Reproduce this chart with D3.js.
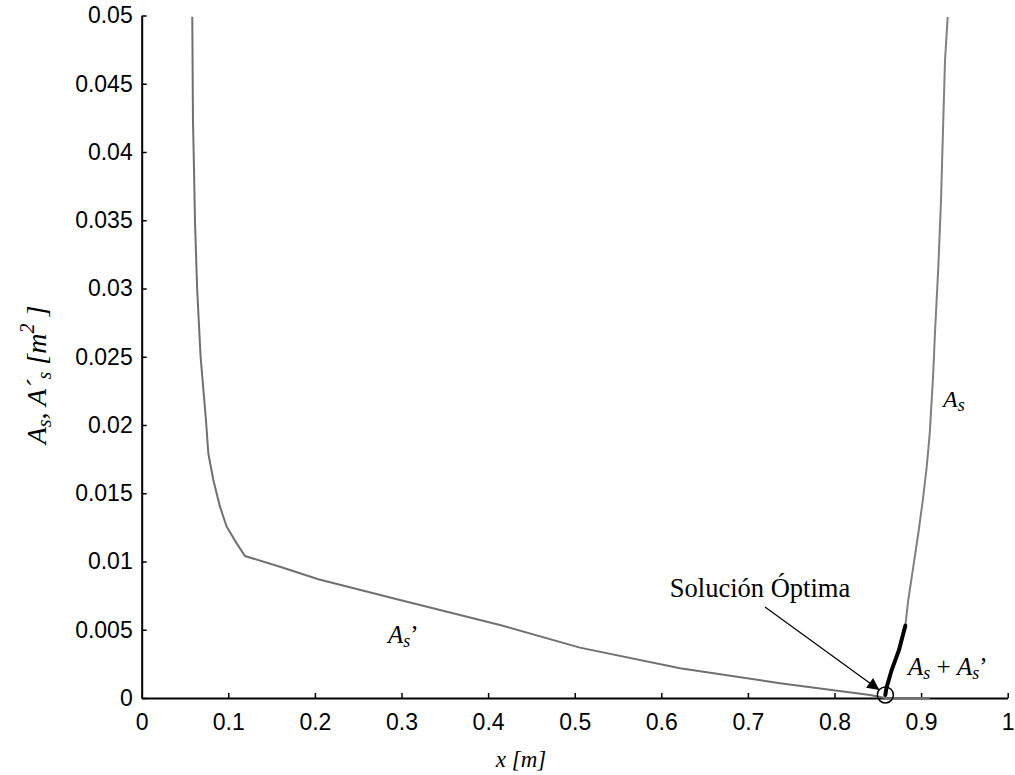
<!DOCTYPE html>
<html><head><meta charset="utf-8">
<script src="https://cdn.jsdelivr.net/npm/d3@7"></script>
<style>body{margin:0;background:#fff}</style>
</head><body>
<svg id="c" width="1015" height="775"></svg>
<script>
const xTicks = [0,0.1,0.2,0.3,0.4,0.5,0.6,0.7,0.8,0.9,1];
const yTicks = [0,0.005,0.01,0.015,0.02,0.025,0.03,0.035,0.04,0.045,0.05];
const xTickLabels = ["0","0.1","0.2","0.3","0.4","0.5","0.6","0.7","0.8","0.9","1"];
const yTickLabels = ["0","0.005","0.01","0.015","0.02","0.025","0.03","0.035","0.04","0.045","0.05"];

const asPrimeX = [0.0584,0.0592,0.0600,0.0615,0.0640,0.0680,0.0742,0.0769,0.0827,0.0904,0.0981,0.1097,0.1193,0.1597,0.2039,0.2983,0.4137,0.5060,0.6216,0.7370,0.8411,0.8587,0.9100];
const asPrimeY = [0.0499,0.0423,0.0400,0.0350,0.0300,0.0250,0.02037,0.01793,0.01597,0.01402,0.01255,0.01133,0.01040,0.00962,0.00870,0.00718,0.00535,0.00369,0.00218,0.00108,0.00022,0.0000,0.0000];

const asX = [0.9307,0.9276,0.9256,0.9230,0.9199,0.9160,0.9140,0.9100,0.9065,0.9020,0.8968,0.8910,0.8852,0.8818,0.8744,0.8660,0.8600,0.8587];
const asY = [0.0499,0.0467,0.0423,0.03648,0.0316,0.02672,0.02379,0.0194,0.01695,0.0145,0.01207,0.00962,0.00718,0.0053,0.0035,0.00205,0.00073,0.00022];

const sumX = [0.8818,0.8744,0.8660,0.8600,0.8587];
const sumY = [0.0053,0.0035,0.00205,0.00073,0.00022];

const optimum = [0.8587, 0.00022];

const svg = d3.select("#c");
const x = d3.scaleLinear().domain([0,1]).range([141.7,1007.7]);
const y = d3.scaleLinear().domain([0,0.05]).range([698,15.5]);

const serif = "'Liberation Serif','Times New Roman',serif";
const sans = "'Liberation Sans',Arial,sans-serif";

// axes
const xAxis = d3.axisBottom(x).tickValues(xTicks).tickFormat((d,i)=>xTickLabels[i]).tickSizeInner(-5).tickSizeOuter(0).tickPadding(16);
const gx = svg.append("g").attr("transform","translate(0,698)").call(xAxis);
const yAxis = d3.axisLeft(y).tickValues(yTicks).tickFormat((d,i)=>yTickLabels[i]).tickSizeInner(-5).tickSizeOuter(0).tickPadding(9);
const gy = svg.append("g").attr("transform","translate(141.7,0)").call(yAxis);
[gx,gy].forEach(g=>{
  g.select(".domain").attr("stroke","#000").attr("stroke-width",2);
  g.selectAll(".tick line").attr("stroke","#000").attr("stroke-width",1.5);
  g.selectAll(".tick text").attr("font-family",sans).attr("font-size",23).attr("fill","#000");
});

const lineX = d3.line().x(d=>x(d[0])).y(d=>y(d[1]));

svg.append("path").datum(asPrimeX.map((v,i)=>[v,asPrimeY[i]]))
  .attr("d",lineX).attr("fill","none").attr("stroke","#707070").attr("stroke-width",2);
svg.append("path").datum(asX.map((v,i)=>[v,asY[i]]))
  .attr("d",lineX).attr("fill","none").attr("stroke","#808080").attr("stroke-width",2);
svg.append("path").datum(sumX.map((v,i)=>[v,sumY[i]]))
  .attr("d",lineX).attr("fill","none").attr("stroke","#000").attr("stroke-width",4).attr("stroke-linecap","round");

svg.append("circle").attr("cx",x(optimum[0])).attr("cy",y(optimum[1])).attr("r",8)
  .attr("fill","none").attr("stroke","#000").attr("stroke-width",1.5);

// arrow annotation
svg.append("defs").append("marker").attr("id","ah").attr("viewBox","0 0 10 10")
  .attr("refX",10).attr("refY",5).attr("markerWidth",24).attr("markerHeight",12)
  .attr("markerUnits","userSpaceOnUse").attr("orient","auto")
  .append("path").attr("d","M0,0L10,5L0,10Z").attr("fill","#000");
svg.append("line").attr("x1",765).attr("y1",607).attr("x2",x(optimum[0])-6).attr("y2",y(optimum[1])-5)
  .attr("stroke","#000").attr("stroke-width",1.2).attr("marker-end","url(#ah)");

svg.append("text").attr("x",760).attr("y",597).attr("text-anchor","middle")
  .attr("font-family",serif).attr("font-size",26.5).text("Solución Óptima");

function sublabel(xp, yp, parts, size){
  const t = svg.append("text").attr("x",xp).attr("y",yp).attr("font-family",serif).attr("font-size",size);
  parts.forEach(p=>{
    const ts = t.append("tspan").text(p.t);
    if(p.i) ts.attr("font-style","italic");
    if(p.dy) ts.attr("dy",p.dy);
    if(p.fs) ts.attr("font-size",p.fs);
  });
  return t;
}
sublabel(388,643,[{t:"A",i:1},{t:"s",i:1,dy:4,fs:18},{t:"’",dy:-4}],25);
sublabel(943,407,[{t:"A",i:1},{t:"s",i:1,dy:4,fs:18}],24);
sublabel(908,675,[{t:"A",i:1},{t:"s",i:1,dy:4,fs:18},{t:" + ",dy:-4},{t:"A",i:1},{t:"s",i:1,dy:4,fs:18},{t:"’",dy:-4}],25);

// axis titles
svg.append("text").attr("x",521).attr("y",767).attr("text-anchor","middle")
  .attr("font-family",serif).attr("font-style","italic").attr("font-size",23).text("x [m]");

const yl = svg.append("text").attr("transform","translate(46,375) rotate(-90)").attr("text-anchor","middle")
  .attr("font-family",serif).attr("font-style","italic").attr("font-size",28);
yl.append("tspan").text("A");
yl.append("tspan").text("s").attr("dy",5).attr("font-size",20);
yl.append("tspan").text(", A´").attr("dy",-5);
yl.append("tspan").text("s").attr("dy",5).attr("font-size",20);
yl.append("tspan").text(" [m").attr("dy",-5);
yl.append("tspan").text("2").attr("dy",-12).attr("font-size",20);
yl.append("tspan").text(" ]").attr("dy",12);
</script>
</body></html>
